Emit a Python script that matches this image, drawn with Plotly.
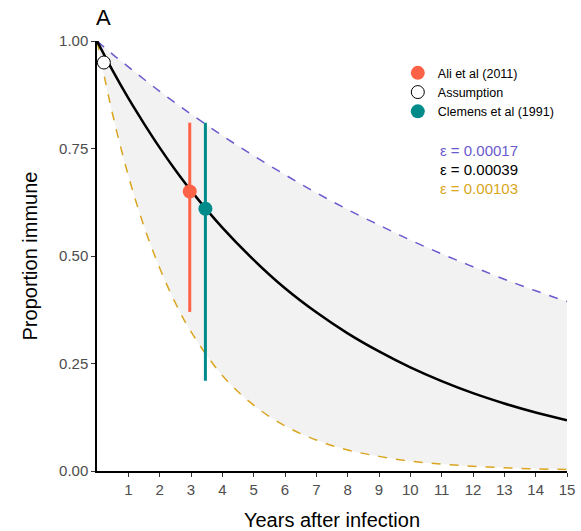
import plotly.graph_objects as go

# Curves (proportion immune at given years)
years = [0, 0.5, 1, 1.5, 2, 2.5, 3, 4, 5, 6, 7, 8, 9, 10, 11, 12, 13, 14, 15]
central = [1.00, 0.931, 0.867, 0.808, 0.752, 0.700, 0.652, 0.566, 0.491, 0.425, 0.369, 0.320, 0.278, 0.241, 0.209, 0.181, 0.157, 0.136, 0.118]
upper = [1.00, 0.969, 0.940, 0.911, 0.883, 0.856, 0.830, 0.780, 0.733, 0.689, 0.647, 0.608, 0.572, 0.537, 0.505, 0.475, 0.446, 0.419, 0.394]
lower = [1.00, 0.829, 0.687, 0.569, 0.472, 0.391, 0.324, 0.222, 0.153, 0.105, 0.072, 0.049, 0.034, 0.023, 0.016, 0.011, 0.0075, 0.005, 0.0036]

# Study points
studies = ["Ali et al (2011)", "Assumption", "Clemens et al (1991)"]
study_x = [2.96, 0.22, 3.46]
study_y = [0.65, 0.95, 0.61]
study_lo = [0.37, None, 0.21]
study_hi = [0.81, None, 0.81]

eps_labels = ["ε = 0.00017", "ε = 0.00039", "ε = 0.00103"]

C_UP = "#6A5ACD"
C_LO = "#DAA520"
C_ALI = "#FF6347"
C_CLE = "#008B8B"

fig = go.Figure()
fig.add_trace(go.Scatter(x=years, y=lower, mode="lines", line=dict(color=C_LO, width=1.5, dash="dash", shape="spline"),
                         showlegend=False, hoverinfo="skip"))
fig.add_trace(go.Scatter(x=years, y=upper, mode="lines", line=dict(color=C_UP, width=1.5, dash="dash", shape="spline"),
                         fill="tonexty", fillcolor="#F2F2F2", showlegend=False, hoverinfo="skip"))
fig.add_trace(go.Scatter(x=years, y=central, mode="lines", line=dict(color="black", width=2.5, shape="spline"),
                         showlegend=False, hoverinfo="skip", cliponaxis=False))

# Ali
fig.add_trace(go.Scatter(x=[study_x[0]], y=[study_y[0]], mode="markers", name=studies[0],
                         marker=dict(color=C_ALI, size=14),
                         error_y=dict(type="data", symmetric=False, array=[study_hi[0] - study_y[0]],
                                      arrayminus=[study_y[0] - study_lo[0]], color=C_ALI, thickness=3, width=0)))
# Assumption
fig.add_trace(go.Scatter(x=[study_x[1]], y=[study_y[1]], mode="markers", name=studies[1], cliponaxis=False,
                         marker=dict(color="white", size=13, line=dict(color="black", width=1))))
# Clemens
fig.add_trace(go.Scatter(x=[study_x[2]], y=[study_y[2]], mode="markers", name=studies[2],
                         marker=dict(color=C_CLE, size=14),
                         error_y=dict(type="data", symmetric=False, array=[study_hi[2] - study_y[2]],
                                      arrayminus=[study_y[2] - study_lo[2]], color=C_CLE, thickness=3, width=0)))

for i, (lab, col) in enumerate(zip(eps_labels, [C_UP, "black", C_LO])):
    fig.add_annotation(x=(440 - 97) / 470, y=(471 - (150 + 19 * i)) / 430, xref="paper", yref="paper",
                       text=lab, showarrow=False, xanchor="left", yanchor="middle", xshift=-2,
                       font=dict(size=15, color=col))

fig.add_annotation(x=0, y=1, xref="paper", yref="paper", text="A", showarrow=False,
                   xanchor="left", yanchor="bottom", yshift=9, xshift=-3, font=dict(size=22, color="black"))

fig.update_layout(
    width=581, height=531,
    margin=dict(l=97, r=14, t=41, b=60),
    plot_bgcolor="white", paper_bgcolor="white",
    font=dict(family="Liberation Sans, Arial, sans-serif"),
    legend=dict(x=0.64, y=0.96, xanchor="left", yanchor="top", font=dict(size=12.5, color="black"),
                bgcolor="rgba(0,0,0,0)", tracegroupgap=0, traceorder="normal"),
    xaxis=dict(range=[0, 15], tickvals=list(range(1, 16)), showgrid=False, zeroline=False, automargin=False,
               showline=True, linecolor="black", linewidth=1.5, ticks="outside", ticklen=4,
               tickcolor="#333333", tickfont=dict(size=15, color="#4D4D4D"),
               title=dict(text="Years after infection", font=dict(size=20, color="black"), standoff=16)),
    yaxis=dict(range=[0, 1], tickvals=[0, 0.25, 0.5, 0.75, 1], ticktext=["0.00", "0.25", "0.50", "0.75", "1.00"],
               showgrid=False, zeroline=False, showline=True, linecolor="black", linewidth=1.5, automargin=False,
               ticks="outside", ticklen=4, tickcolor="#333333", tickfont=dict(size=15, color="#4D4D4D"),
               title=dict(text="Proportion immune", font=dict(size=20, color="black"), standoff=16)),
)

fig.write_html("out.html")
